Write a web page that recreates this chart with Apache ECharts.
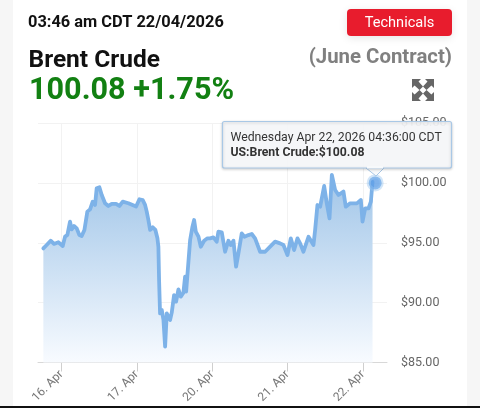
<!DOCTYPE html>
<html><head><meta charset="utf-8">
<script src="https://cdn.jsdelivr.net/npm/echarts@6/dist/echarts.min.js"></script>
<style>
html,body{margin:0;padding:0;width:480px;height:408px;overflow:hidden;background:#f6f6f6;font-family:Roboto,sans-serif}
#card{position:absolute;left:13px;top:0;width:454px;height:408px;background:#fff}
#chart{position:absolute;left:0;top:0;width:480px;height:408px}
#bar{position:absolute;left:0;top:406px;width:480px;height:2px;background:#111}
</style></head><body>
<div id="card"></div><div id="chart"></div><div id="bar"></div>
<script>
const sessionPos=[-0.241,-0.197,-0.144,-0.1,-0.042,0.016,0.047,0.078,0.113,0.135,0.166,0.202,0.237,0.268,0.304,0.343,0.379,0.414,0.445,0.467,0.503,0.534,0.578,0.622,0.667,0.724,0.768,0.813,0.888,0.99,1.034,1.078,1.109,1.131,1.153,1.176,1.211,1.246,1.273,1.286,1.295,1.308,1.331,1.353,1.375,1.397,1.419,1.441,1.463,1.494,1.521,1.552,1.583,1.618,1.64,1.654,1.676,1.707,1.738,1.76,1.782,1.818,1.848,1.893,1.937,1.972,2.016,2.06,2.082,2.127,2.171,2.215,2.246,2.282,2.317,2.348,2.392,2.428,2.481,2.525,2.569,2.636,2.702,2.769,2.835,2.901,2.946,2.999,3.043,3.087,3.132,3.167,3.211,3.278,3.344,3.366,3.397,3.433,3.486,3.521,3.557,3.588,3.632,3.676,3.742,3.773,3.831,3.92,3.973,3.995,4.03,4.075,4.106,4.128];
const prices=[94.53,94.81,95.17,94.9,95.04,94.73,95.51,95.65,96.76,96.12,96.4,96.2,95.65,95.56,96.07,97.6,97.79,98.43,98.16,99.55,99.63,98.99,98.3,98.07,98.24,98.24,98.07,98.43,98.3,98.02,98.63,98.57,98.16,97.6,96.9,96.07,96.29,96.07,95.37,94.67,91.89,89.1,89.38,88.55,86.32,89.1,89.24,88.55,89.16,90.63,90.08,91.11,90.5,90.83,92.17,90.92,92.72,95.23,96.34,96.9,95.93,95.51,94.67,95.17,95.37,95.37,95.45,95.09,95.92,95.87,94.25,95.17,94.81,95.17,93.0,94.11,95.78,95.5,95.64,95.73,95.37,94.25,94.25,94.67,95.09,94.95,94.81,93.97,95.37,94.39,95.37,94.95,94.25,95.5,94.81,96.06,98.15,98.01,99.74,98.29,97.04,100.66,99.4,98.99,99.27,98.01,98.29,98.29,98.57,96.76,97.87,97.87,98.43,100.08];
const hoverPoint=[4.163,100.0];
const tickPositions=[0,1,2,3,4];
const tickLabels=['16. Apr','17. Apr','20. Apr','21. Apr','22. Apr'];
const series1=sessionPos.map((x,i)=>[x,prices[i]]);
const font='Roboto, sans-serif';
function T(x,y,text,size,weight,fill,align){
  return {type:'text',x:x,y:y,z:50,style:{text:text,fontFamily:font,fontSize:size,fontWeight:weight,fill:fill,align:align||'left',verticalAlign:'middle'}};
}
const G='#666';
function arrow(cx,cy,sx,sy){
  return {type:'polygon',z:50,style:{fill:G},shape:{points:[[cx,cy],[cx+sx*9,cy],[cx+sx*6.5,cy+sy*2.6],[cx+sx*11,cy+sy*7.5],[cx+sx*7.5,cy+sy*11],[cx+sx*2.6,cy+sy*6.5],[cx,cy+sy*9]]}};
}
const chart=echarts.init(document.getElementById('chart'),null,{renderer:'canvas'});
chart.setOption({
  animation:false,
  backgroundColor:'transparent',
  grid:{left:38,right:93,top:123,bottom:45.5,containLabel:false},
  xAxis:{type:'value',min:-0.312,max:4.32,
    axisLine:{lineStyle:{color:'#d8d8d8',width:1},onZero:false},
    axisTick:{show:true,length:9,customValues:tickPositions,lineStyle:{color:'#cfcfcf'}},
    axisLabel:{rotate:45,margin:10,color:'#777',fontSize:12,fontFamily:font,customValues:tickPositions,
      formatter:v=>tickLabels[tickPositions.indexOf(Math.round(v))]},
    splitLine:{show:true,lineStyle:{color:'#f2f2f2',width:1}}},
  yAxis:{type:'value',position:'right',min:85,max:105,interval:5,
    axisLine:{show:false},axisTick:{show:false},
    axisLabel:{margin:14,color:'#666',fontSize:12.5,fontFamily:font,padding:[3,0,0,0],formatter:v=>'$'+v.toFixed(2)},
    splitLine:{show:true,lineStyle:{color:'#f2f2f2',width:1}}},
  series:[
    {type:'line',data:series1,symbol:'none',smooth:false,
     lineStyle:{color:'#7db2e8',width:3.8,join:'round',cap:'round'},
     areaStyle:{color:{type:'linear',x:0,y:0,x2:0,y2:1,colorStops:[{offset:0,color:'#a0c5e8'},{offset:1,color:'#f8fbff'}]},opacity:1}},
    {type:'scatter',data:[hoverPoint],symbol:'circle',symbolSize:13,silent:true,z:5,
     itemStyle:{color:'#5f9fe6',borderColor:'rgba(150,195,240,0.55)',borderWidth:4}}
  ],
  graphic:[
    {type:'rect',z:40,shape:{x:347,y:9,width:105,height:27,r:4},style:{fill:'#e81c2d',shadowBlur:8,shadowColor:'rgba(0,0,0,0.10)',shadowOffsetY:2}},
    T(399.5,23.5,'Technicals',14.6,400,'#fff','center'),
    T(28,22.5,'03:46 am CDT 22/04/2026',16.4,700,'#111'),
    T(28.5,60.5,'Brent Crude',24.5,700,'#111'),
    T(29,91.5,'100.08 +1.75%',30.6,700,'#128012'),
    T(452,57.5,'(June Contract)',20.4,700,'#808080','right'),
    arrow(412,79,1,1),arrow(434,79,-1,1),arrow(412,101,1,-1),arrow(434,101,-1,-1),
    {type:'polygon',z:41,shape:{points:[[366,168],[376,176],[384,168]]},style:{fill:'#f7f9fb',stroke:'#a9c8e6',lineWidth:1}},
    {type:'rect',z:42,shape:{x:222.5,y:121.5,width:229,height:46.5,r:2},style:{fill:'rgba(247,249,251,0.93)',stroke:'#a9c8e6',lineWidth:1.2,shadowBlur:3,shadowColor:'rgba(0,0,0,0.2)',shadowOffsetY:1}},
    {type:'rect',z:43,shape:{x:367,y:166,width:16,height:2.5},style:{fill:'#f7f9fb'}},
    T(230.5,137.5,'Wednesday Apr 22, 2026 04:36:00 CDT',12.25,400,'#333'),
    T(230.5,153,'US:Brent Crude:$100.08',12.25,700,'#333')
  ]
});
</script></body></html>
